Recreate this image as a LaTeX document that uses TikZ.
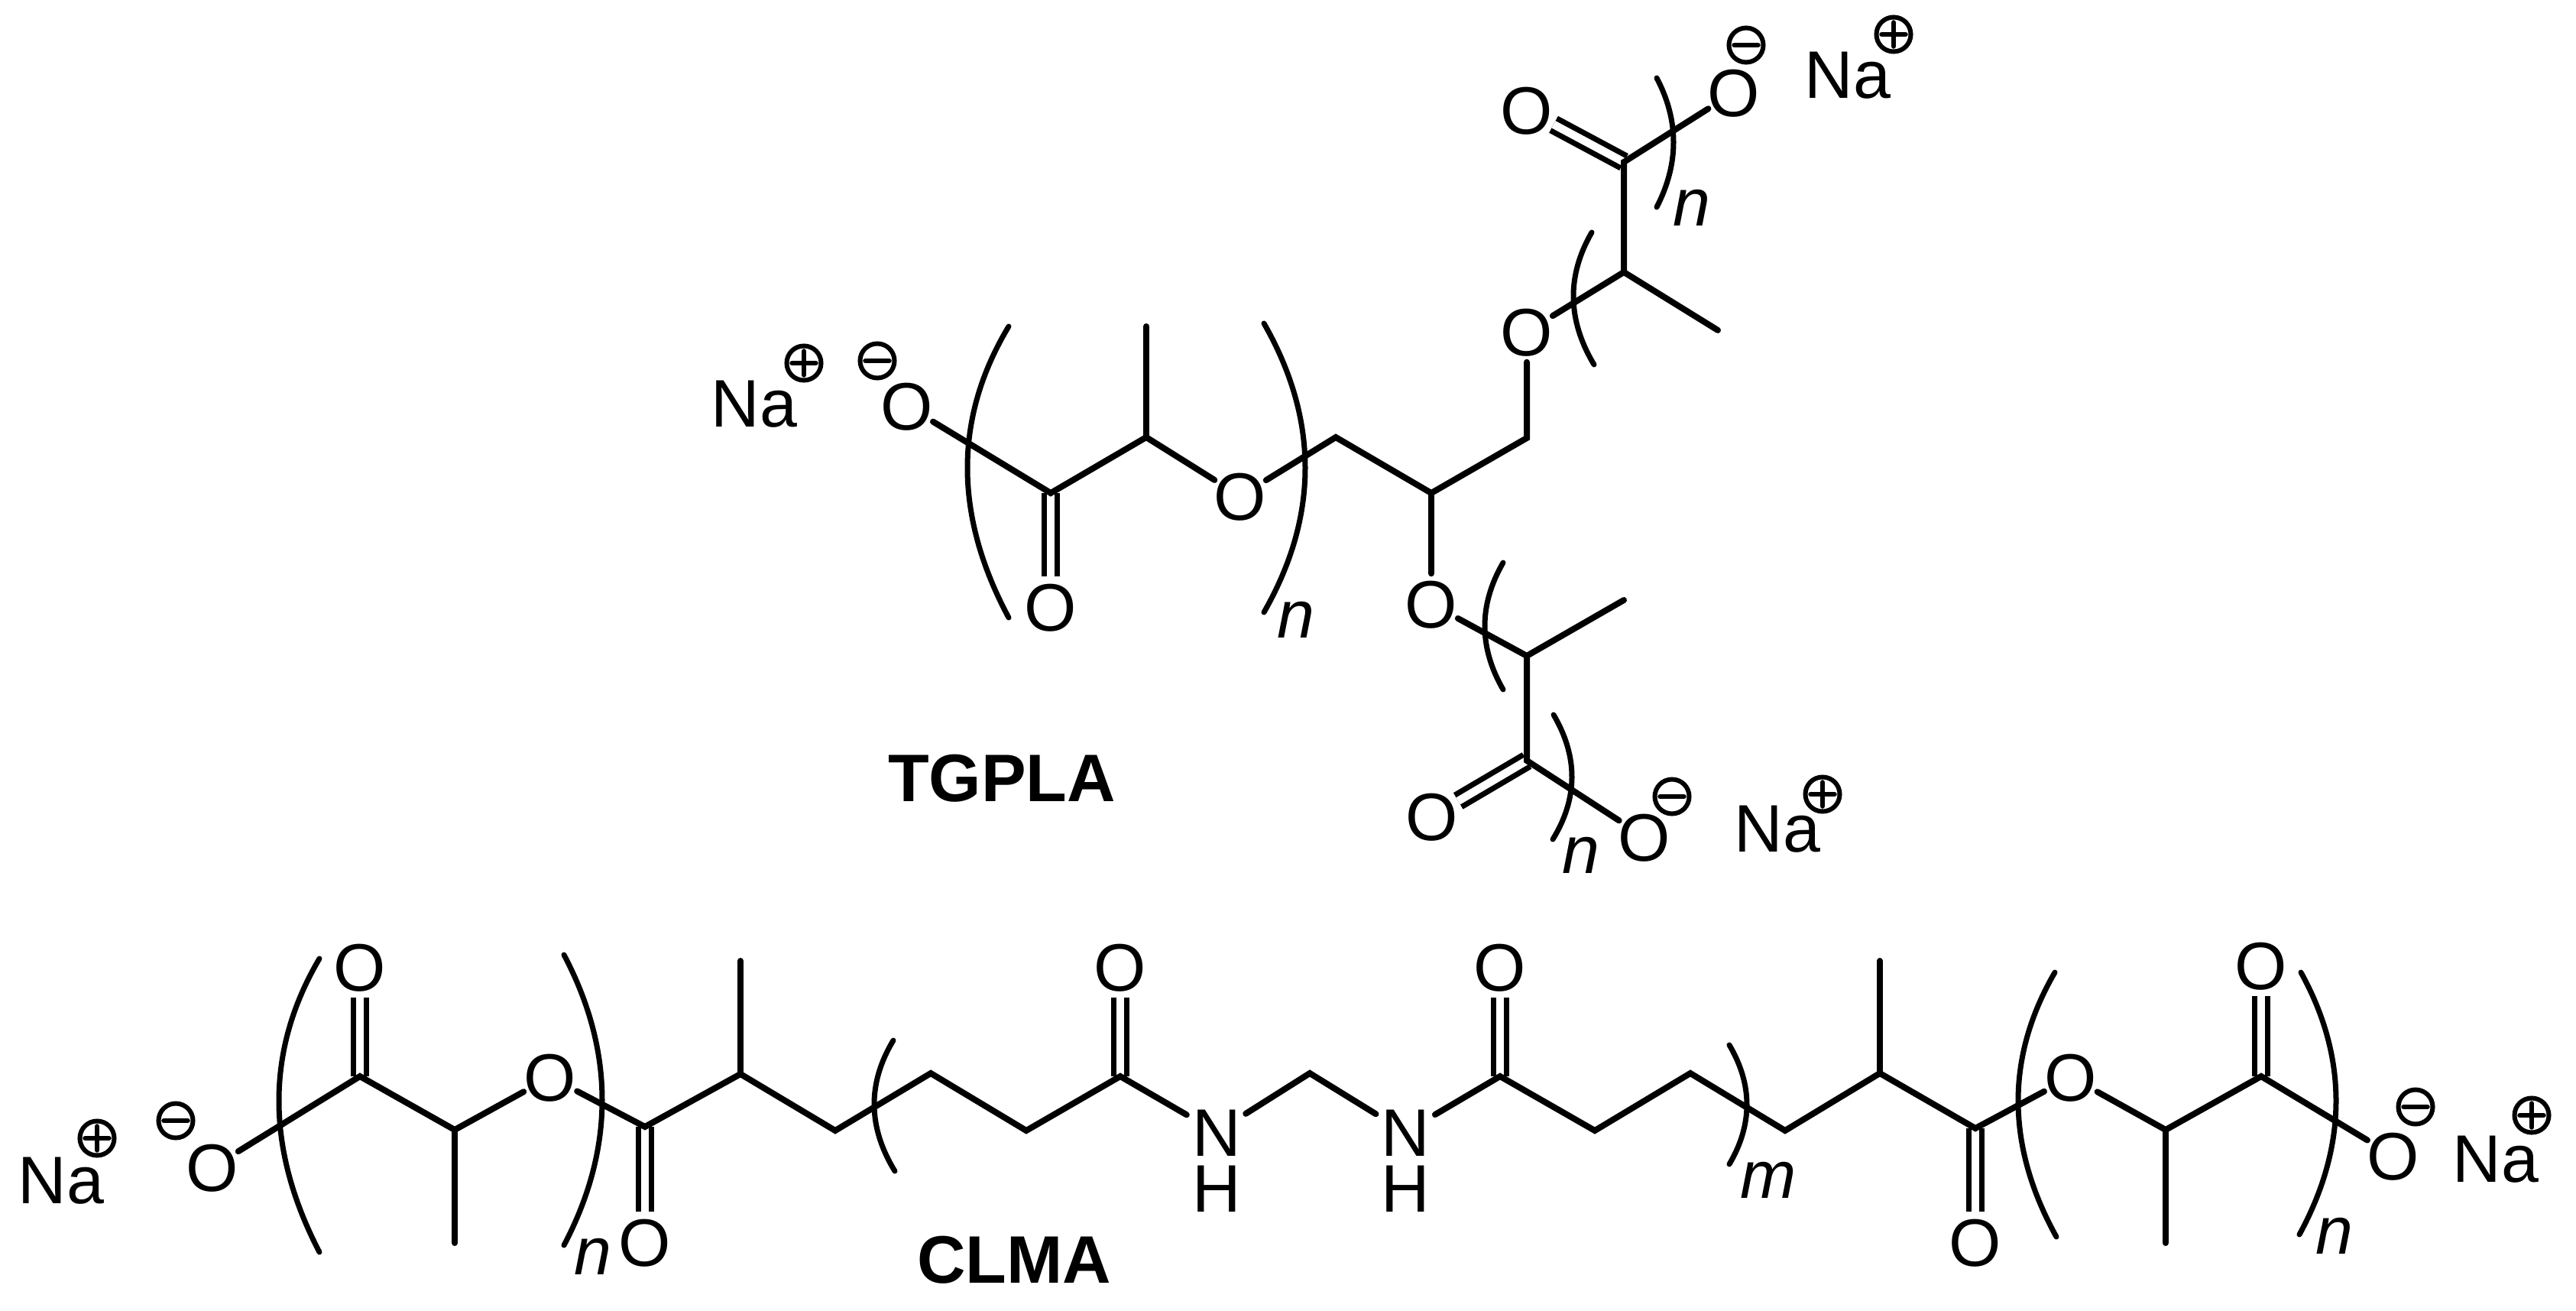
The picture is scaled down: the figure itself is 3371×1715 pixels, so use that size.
\documentclass[tikz,border=0pt]{standalone}
\usepackage{fontspec}
\setmainfont{Liberation Sans}
\newcommand{\capc}[1]{\makebox[0pt][c]{\raisebox{-0.358em}[0pt][0pt]{#1}}}
\newcommand{\xhc}[1]{\makebox[0pt][c]{\raisebox{-0.26em}[0pt][0pt]{\itshape #1}}}
% arc through three points, as a true quadratic curve
\newcommand{\brackarc}[6]{%
  \pgfmathsetmacro\qqx{2*#3-(#1+#5)/2}%
  \pgfmathsetmacro\qqy{2*#4-(#2+#6)/2}%
  \pgfmathsetmacro\qax{(#1+2*\qqx)/3}%
  \pgfmathsetmacro\qay{(#2+2*\qqy)/3}%
  \pgfmathsetmacro\qbx{(#5+2*\qqx)/3}%
  \pgfmathsetmacro\qby{(#6+2*\qqy)/3}%
  \draw[brk] (#1,#2) .. controls (\qax,\qay) and (\qbx,\qby) .. (#5,#6);}
\tikzset{
  bond/.style={line width=.08cm,line join=miter,line cap=round},
  dbond/.style={line width=.072cm,double,double distance=.105cm,line cap=butt},
  brk/.style={line width=.07cm,line cap=round},
  atom/.style={circle,inner sep=0pt,minimum size=.78cm,font=\fontsize{25}{25}\selectfont},
  natom/.style={atom,minimum size=.89cm},
  ion/.style={inner sep=0pt,font=\fontsize{25}{25}\selectfont},
  title/.style={inner sep=0pt,font=\fontsize{25}{25}\selectfont\bfseries},
  repeatn/.style={inner sep=0pt,font=\fontsize{25}{25}\selectfont},
  chg/.style={circle,draw,line width=.06cm,inner sep=0pt,minimum size=.45cm},
  chgminus/.style={chg,path picture={\draw[line width=.065cm,line cap=round]
     ([xshift=-.155cm]path picture bounding box.center) -- ([xshift=.155cm]path picture bounding box.center);}},
  chgplus/.style={chg,path picture={\draw[line width=.065cm,line cap=round]
     ([xshift=-.155cm]path picture bounding box.center) -- ([xshift=.155cm]path picture bounding box.center)
     ([yshift=-.155cm]path picture bounding box.center) -- ([yshift=.155cm]path picture bounding box.center);}},
}
\begin{document}
\begin{tikzpicture}[x=.01cm,y=-.01cm]
\useasboundingbox (0,0) rectangle (3371,1715);
% ---- TGPLA atoms
\node[ion] (NaA) at (987,527) {\capc{Na}};
\node[chgplus] (PA) at (1052,475) {};
\node[chgminus] (MA) at (1148,472) {};
\node[atom] (Oa) at (1187,531) {\capc{O}};
\coordinate (c1) at (1375,645);
\node[atom] (Ob) at (1375,794) {\capc{O}};
\coordinate (c2) at (1500,572);
\coordinate (m1) at (1500,427);
\node[atom] (Oc) at (1623,649) {\capc{O}};
\coordinate (c3) at (1748,572);
\coordinate (c4) at (1873,645);
\coordinate (c5) at (1998,573);
\node[atom] (Od) at (1998,434) {\capc{O}};
\coordinate (c6) at (2125,356);
\coordinate (m2) at (2248,432);
\coordinate (c7) at (2125,212);
\node[atom] (Oe) at (1998,144) {\capc{O}};
\node[atom] (Of) at (2269,121) {\capc{O}};
\node[chgminus] (MB) at (2285,59) {};
\node[ion] (NaB) at (2418,97) {\capc{Na}};
\node[chgplus] (PB) at (2478,45) {};
\node[atom] (Oh) at (1873,790) {\capc{O}};
\coordinate (c8) at (1998,858);
\coordinate (m3) at (2125,785);
\coordinate (c9) at (1998,995);
\node[atom] (Oi) at (1874,1068) {\capc{O}};
\node[atom] (Oj) at (2152,1095) {\capc{O}};
\node[chgminus] (MC) at (2188,1042) {};
\node[ion] (NaC) at (2326,1083) {\capc{Na}};
\node[chgplus] (PC) at (2385,1039) {};
\node[title] (tg) at (1311,1017) {\capc{TGPLA}};
\node[repeatn] (n1) at (1696,812) {\xhc{n}};
\node[repeatn] (n2) at (2214,273) {\xhc{n}};
\node[repeatn] (n3) at (2069,1120) {\xhc{n}};
% ---- TGPLA bonds
\draw[dbond] (c1) -- (Ob);
\draw[dbond] (c7) -- (Oe);
\draw[dbond] (c9) -- (Oi);
\draw[bond] (Oa) -- (c1) -- (c2) -- (Oc);
\draw[bond] (c2) -- (m1);
\draw[bond] (Oc) -- (c3) -- (c4) -- (c5) -- (Od);
\draw[bond] (c4) -- (Oh);
\draw[bond] (Od) -- (c6) -- (m2);
\draw[bond] (c6) -- (c7) -- (Of);
\draw[bond] (Oh) -- (c8) -- (m3);
\draw[bond] (c8) -- (c9) -- (Oj);
% ---- TGPLA brackets
\brackarc{1320}{427}{1266}{612}{1320}{808}
\brackarc{1654}{423}{1708}{612}{1654}{801}
\brackarc{2168}{102}{2190}{186}{2168}{271}
\brackarc{2083}{304}{2059}{390}{2086}{477}
\brackarc{1967}{736}{1943}{819}{1967}{902}
\brackarc{2033}{935}{2057}{1017}{2032}{1098}
% ---- CLMA atoms
\node[ion] (NaD) at (80,1543) {\capc{Na}};
\node[chgplus] (PD) at (127,1489) {};
\node[chgminus] (MD) at (230,1466) {};
\node[atom] (Ok) at (278,1527) {\capc{O}};
\coordinate (d1) at (471,1408);
\node[atom] (Ol) at (471,1265) {\capc{O}};
\coordinate (d2) at (595,1478);
\coordinate (m4) at (595,1626);
\node[atom] (Om) at (720,1409) {\capc{O}};
\coordinate (d3) at (844,1474);
\node[atom] (On) at (844,1625) {\capc{O}};
\coordinate (d4) at (969,1405);
\coordinate (m5) at (969,1257);
\coordinate (d5) at (1093,1479);
\coordinate (d6) at (1218,1404);
\coordinate (d7) at (1343,1479);
\coordinate (d8) at (1466,1408);
\node[atom] (Oo) at (1466,1265) {\capc{O}};
\node[natom] (N1) at (1592,1481) {\capc{N}};
\node[ion] (H1) at (1592,1554) {\capc{H}};
\coordinate (d9) at (1714,1404);
\node[natom] (N2) at (1839,1481) {\capc{N}};
\node[ion] (H2) at (1839,1554) {\capc{H}};
\coordinate (d10) at (1963,1408);
\node[atom] (Op) at (1963,1265) {\capc{O}};
\coordinate (d11) at (2087,1479);
\coordinate (d12) at (2212,1404);
\coordinate (d13) at (2336,1479);
\coordinate (d14) at (2460,1404);
\coordinate (m6) at (2460,1257);
\coordinate (d15) at (2585,1476);
\node[atom] (Oq) at (2585,1625) {\capc{O}};
\node[atom] (Or) at (2710,1409) {\capc{O}};
\coordinate (d16) at (2834,1478);
\coordinate (m7) at (2834,1626);
\coordinate (d17) at (2959,1408);
\node[atom] (Os) at (2959,1263) {\capc{O}};
\node[atom] (Ot) at (3132,1512) {\capc{O}};
\node[chgminus] (ME) at (3161,1448) {};
\node[ion] (NaE) at (3266,1515) {\capc{Na}};
\node[chgplus] (PE) at (3313,1459) {};
\node[title] (cl) at (1327,1647) {\capc{CLMA}};
\node[repeatn] (n4) at (776,1645) {\xhc{n}};
\node[repeatn] (nm) at (2314,1545) {\xhc{m}};
\node[repeatn] (n5) at (3055,1618) {\xhc{n}};
% ---- CLMA bonds
\draw[dbond] (d1) -- (Ol);
\draw[dbond] (d3) -- (On);
\draw[dbond] (d8) -- (Oo);
\draw[dbond] (d10) -- (Op);
\draw[dbond] (d15) -- (Oq);
\draw[dbond] (d17) -- (Os);
\draw[bond] (Ok) -- (d1) -- (d2) -- (Om);
\draw[bond] (d2) -- (m4);
\draw[bond] (Om) -- (d3) -- (d4) -- (d5) -- (d6) -- (d7) -- (d8) -- (N1);
\draw[bond] (d4) -- (m5);
\draw[bond] (N1) -- (d9) -- (N2);
\draw[bond] (N2) -- (d10) -- (d11) -- (d12) -- (d13) -- (d14) -- (d15) -- (Or);
\draw[bond] (d14) -- (m6);
\draw[bond] (Or) -- (d16) -- (d17) -- (Ot);
\draw[bond] (d16) -- (m7);
% ---- CLMA brackets
\brackarc{418}{1254}{365}{1440}{418}{1638}
\brackarc{738}{1249}{788}{1439}{738}{1629}
\brackarc{1169}{1361}{1144}{1446}{1171}{1532}
\brackarc{2263}{1367}{2286}{1445}{2263}{1523}
\brackarc{2689}{1272}{2641}{1442}{2691}{1618}
\brackarc{3011}{1272}{3057}{1442}{3009}{1615}
\end{tikzpicture}
\end{document}
